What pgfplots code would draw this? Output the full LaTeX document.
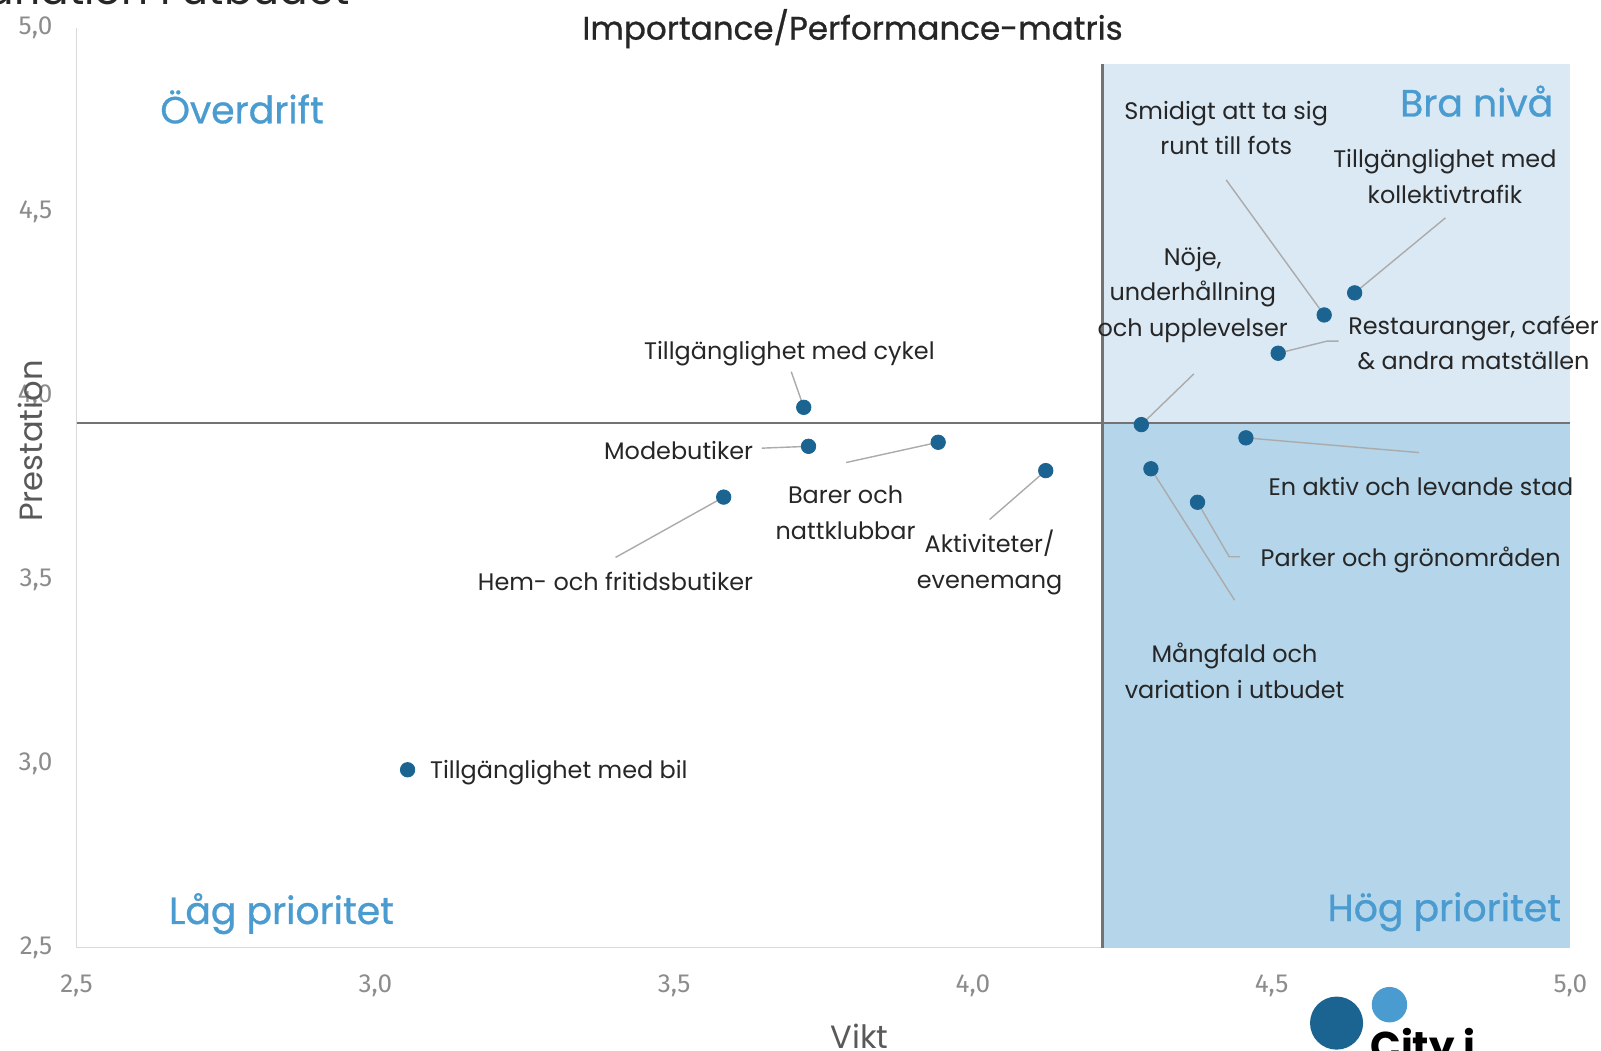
\documentclass[border=0pt]{standalone}
\usepackage{fontspec}
\setmainfont{Poppins}
\newfontfamily\popmed[FakeBold=0.8]{Poppins}
\newfontfamily\tickfont{Fira Sans}
\usepackage{pgfplots}
\pgfplotsset{compat=1.18}

\definecolor{ptblue}{HTML}{1B6491}
\definecolor{quadblue}{HTML}{4A9BD0}
\definecolor{lightq}{HTML}{DAE9F4}
\definecolor{darkq}{HTML}{B4D5EA}
\definecolor{leader}{HTML}{ABABAB}
\definecolor{divider}{HTML}{737373}
\definecolor{axisgray}{HTML}{D9D9D9}
\definecolor{tickgray}{HTML}{8C8C8C}
\definecolor{labelgray}{HTML}{595959}
\definecolor{txt}{HTML}{262626}

% importance (x) / performance (y)
\pgfplotstableread{
x      y
3.054  2.983
3.717  3.968
3.725  3.862
3.942  3.873
4.122  3.796
3.583  3.724
4.282  3.921
4.298  3.801
4.376  3.710
4.457  3.885
4.511  4.115
4.588  4.219
4.639  4.279
}\ipmdata

\tikzset{
  lbl/.style={font=\fontsize{11.9}{17.7}\selectfont, text=txt, align=center, inner sep=0pt},
  quad/.style={font=\popmed\fontsize{18.8}{21}\selectfont, text=quadblue, inner sep=0pt},
  lead/.style={leader, line width=0.7pt},
}

\begin{document}
\begin{tikzpicture}
\useasboundingbox (0,0) rectangle (28cm,18.375cm);
\begin{axis}[
  at={(1.339cm,1.804cm)}, anchor=south west,
  scale only axis, width=26.125cm, height=16.089cm,
  xmin=2.5, xmax=5, ymin=2.5, ymax=5,
  axis x line=bottom, axis y line=left,
  axis line style={axisgray, line width=0.8pt, -},
  xtick={2.5,3,...,5}, ytick={2.5,3,...,5},
  major tick length=0pt,
  tick label style={font=\tickfont\fontsize{13}{15}\selectfont, text=tickgray},
  xticklabel style={yshift=-0.36cm},
  yticklabel style={xshift=-0.3cm},
  /pgf/number format/.cd, use comma, fixed, fixed zerofill, precision=1, assume math mode=true,
  /pgfplots/.cd,
  clip=false,
]
% quadrants
\fill[lightq] (axis cs:4.217,3.926) rectangle (axis cs:5,4.9);
\fill[darkq] (axis cs:4.217,2.5) rectangle (axis cs:5,3.926);
\draw[divider, line width=1.2pt] (axis cs:4.217,2.5) -- (axis cs:4.217,4.9);
\draw[divider, line width=1.2pt] (axis cs:2.5,3.926) -- (axis cs:5,3.926);

% leader lines
\draw[lead] (axis cs:3.696,4.065) -- (axis cs:3.717,3.968);
\draw[lead] (axis cs:3.647,3.857) -- (axis cs:3.725,3.862);
\draw[lead] (axis cs:3.788,3.818) -- (axis cs:3.942,3.873);
\draw[lead] (axis cs:4.028,3.663) -- (axis cs:4.122,3.796);
\draw[lead] (axis cs:3.402,3.560) -- (axis cs:3.583,3.724);
\draw[lead] (axis cs:4.370,4.059) -- (axis cs:4.282,3.921);
\draw[lead] (axis cs:4.424,4.586) -- (axis cs:4.588,4.219);
\draw[lead] (axis cs:4.791,4.483) -- (axis cs:4.639,4.279);
\draw[lead] (axis cs:4.612,4.148) -- (axis cs:4.593,4.148) -- (axis cs:4.511,4.115);
\draw[lead] (axis cs:4.747,3.845) -- (axis cs:4.457,3.885);
\draw[lead] (axis cs:4.447,3.562) -- (axis cs:4.429,3.562) -- (axis cs:4.376,3.710);
\draw[lead] (axis cs:4.438,3.444) -- (axis cs:4.298,3.801);

\addplot[only marks, mark=*, mark size=3.6pt, mark options={fill=ptblue, draw=ptblue}] table {\ipmdata};

% point labels
\node[lbl] at (axis cs:3.693,4.115) {Tillgänglighet med cykel};
\node[lbl, anchor=east] at (axis cs:3.633,3.851) {Modebutiker};
\node[lbl] at (axis cs:3.787,3.682) {Barer och\\nattklubbar};
\node[lbl] at (axis cs:4.028,3.546) {Aktiviteter/\\evenemang};
\node[lbl] at (axis cs:3.402,3.496) {Hem- och fritidsbutiker};
\node[lbl, anchor=west] at (axis cs:3.091,2.975) {Tillgänglighet med bil};
\node[lbl] at (axis cs:4.368,4.274) {Nöje,\\underhållning\\och upplevelser};
\node[lbl] at (axis cs:4.424,4.727) {Smidigt att ta sig\\runt till fots};
\node[lbl] at (axis cs:4.790,4.595) {Tillgänglighet med\\kollektivtrafik};
\node[lbl] at (axis cs:4.838,4.143) {Restauranger, caféer\\\& andra matställen};
\node[lbl] at (axis cs:4.750,3.754) {En aktiv och levande stad};
\node[lbl, anchor=west] at (axis cs:4.481,3.553) {Parker och grönområden};
\node[lbl] at (axis cs:4.438,3.252) {Mångfald och\\variation i utbudet};

% quadrant names
\node[quad] at (axis cs:2.777,4.784) {Överdrift};
\node[quad, anchor=east] at (axis cs:4.972,4.800) {Bra nivå};
\node[quad] at (axis cs:2.843,2.592) {Låg prioritet};
\node[quad, anchor=east] at (axis cs:4.985,2.597) {Hög prioritet};
\end{axis}

\node[font=\popmed\fontsize{16.2}{18}\selectfont, text=txt] at (14.91cm,17.875cm) {Importance/Performance-matris};
\node[rotate=90, font=\fontsize{16}{18}\selectfont, text=labelgray] at (0.536cm,10.66cm) {Prestation};
\node[font=\fontsize{16}{18}\selectfont, text=labelgray] at (15.036cm,0.26cm) {Vikt};
\node[anchor=base east, font=\fontsize{21}{24}\selectfont, text=txt, inner sep=0pt] at (6.125cm,18.29cm) {Mångfald och variation i utbudet};

% logo
\fill[ptblue] (23.375cm,0.482cm) circle (0.464cm);
\fill[quadblue] (24.30cm,0.804cm) circle (0.31cm);
\node[anchor=north west, inner sep=0pt, font=\bfseries\fontsize{20}{22}\selectfont, text=black] at (23.96cm,0.40cm) {City i};
\end{tikzpicture}
\end{document}
